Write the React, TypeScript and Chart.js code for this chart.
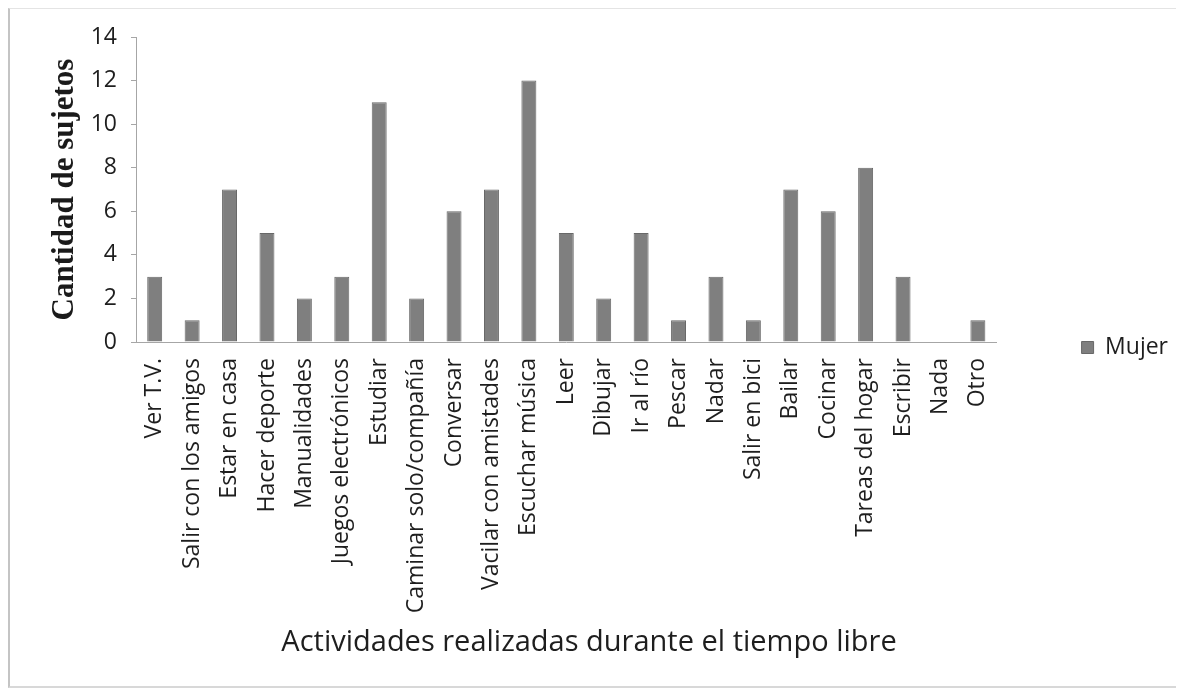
import React, { useEffect, useRef } from "react";
import { Chart, registerables } from "chart.js";

Chart.register(...registerables);

const categories = [
  "Ver T.V.",
  "Salir con los amigos",
  "Estar en casa",
  "Hacer deporte",
  "Manualidades",
  "Juegos electrónicos",
  "Estudiar",
  "Caminar solo/compañía",
  "Conversar",
  "Vacilar con amistades",
  "Escuchar música",
  "Leer",
  "Dibujar",
  "Ir al río",
  "Pescar",
  "Nadar",
  "Salir en bici",
  "Bailar",
  "Cocinar",
  "Tareas del hogar",
  "Escribir",
  "Nada",
  "Otro",
];

const mujerValues = [3, 1, 7, 5, 2, 3, 11, 2, 6, 7, 12, 5, 2, 5, 1, 3, 1, 7, 6, 8, 3, 0, 1];

const yTickValues = [0, 2, 4, 6, 8, 10, 12, 14];

const seriesName = "Mujer";
const yAxisTitle = "Cantidad de sujetos";
const xAxisTitle = "Actividades realizadas durante el tiempo libre";

const W = 1178;
const H = 690;
const PLOT_LEFT = 136;
const PLOT_TOP = 37;
const PLOT_BOTTOM = 342;
const TITLE_FONT = 29;
const TITLE_PAD_BOTTOM = 30;
const LEGEND_SHIFT = -16;
const FONT = "'Open Sans', 'Noto Sans', sans-serif";
const TEXT_COLOR = "#1e1e1e";

export default function App() {
  const canvasRef = useRef<HTMLCanvasElement | null>(null);

  useEffect(() => {
    if (!canvasRef.current) return;
    const shiftLegend = {
      id: "shiftLegend",
      afterLayout(chart: any) {
        const lg = chart.legend;
        if (lg) {
          lg.top += LEGEND_SHIFT;
          lg.bottom += LEGEND_SHIFT;
        }
      },
    };
    const titleBox = TITLE_FONT * 1.2 + TITLE_PAD_BOTTOM;
    const chart = new Chart(canvasRef.current, {
      type: "bar",
      data: {
        labels: categories,
        datasets: [
          {
            label: seriesName,
            data: mujerValues,
            backgroundColor: "#7f7f7f",
            borderColor: "#686868",
            borderWidth: 1,
            barPercentage: 0.4,
            categoryPercentage: 1.0,
          },
        ],
      },
      options: {
        animation: false,
        responsive: true,
        maintainAspectRatio: false,
        layout: { padding: { top: PLOT_TOP, left: 0, right: 0, bottom: 0 } },
        plugins: {
          tooltip: { enabled: false },
          title: {
            display: true,
            position: "bottom",
            text: xAxisTitle,
            color: TEXT_COLOR,
            font: { family: FONT, size: TITLE_FONT, weight: "500" },
            padding: { top: 0, bottom: TITLE_PAD_BOTTOM },
          },
          legend: {
            display: true,
            position: "right",
            labels: {
              color: TEXT_COLOR,
              font: { family: FONT, size: 23, weight: "500" },
              boxWidth: 12,
              boxHeight: 12,
              padding: 85,
            },
          },
        },
        scales: {
          x: {
            afterFit(scale: any) {
              scale.height = H - PLOT_BOTTOM - titleBox;
            },
            border: { display: true, color: "#a6a6a6", width: 1 },
            grid: { display: true, drawOnChartArea: false, drawTicks: false, color: "#a6a6a6" },
            ticks: {
              autoSkip: false,
              maxRotation: 90,
              minRotation: 90,
              padding: 16,
              color: TEXT_COLOR,
              font: { family: FONT, size: 23, weight: "500" },
            },
          },
          y: {
            min: 0,
            max: 14,
            afterFit(scale: any) {
              scale.width = PLOT_LEFT;
            },
            afterBuildTicks(scale: any) {
              scale.ticks = yTickValues.map((v) => ({ value: v }));
            },
            border: { display: true, color: "#a6a6a6", width: 1 },
            grid: { display: true, drawOnChartArea: false, tickLength: 5, color: "#a6a6a6" },
            ticks: {
              padding: 14,
              color: TEXT_COLOR,
              font: { family: FONT, size: 23, weight: "500" },
            },
            title: {
              display: true,
              text: yAxisTitle,
              color: "#1a1a1a",
              font: { family: "'Liberation Serif', serif", size: 31, weight: "bold" },
              padding: { top: 46, bottom: 0 },
            },
          },
        },
      },
      plugins: [shiftLegend],
    });
    return () => chart.destroy();
  }, []);

  return (
    <div style={{ position: "fixed", left: 0, top: 0, width: W, height: H, background: "#ffffff" }}>
      <div
        style={{
          position: "absolute",
          left: 8,
          top: 8,
          width: W - 10,
          height: H - 10,
          boxSizing: "border-box",
          borderLeft: "2px solid #c4c4c4",
          borderTop: "1px solid #e4e4e4",
          borderBottom: "2px solid #d8d8d8",
        }}
      />
      <canvas ref={canvasRef} style={{ position: "absolute", left: 0, top: 0, width: W, height: H }} />
    </div>
  );
}
